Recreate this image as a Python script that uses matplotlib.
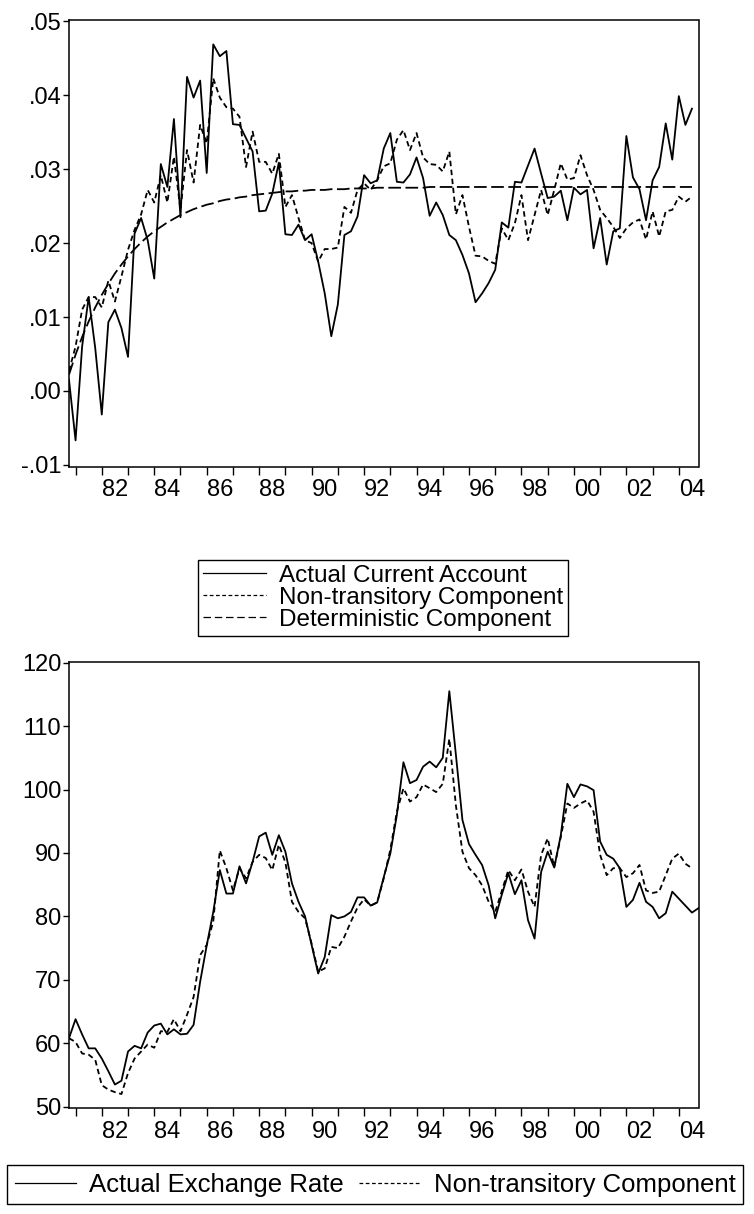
import numpy as np
import matplotlib
matplotlib.use("Agg")
import matplotlib.pyplot as plt
from matplotlib.lines import Line2D

plt.rcParams["font.family"] = ["Liberation Sans", "DejaVu Sans"]

# ================= DATA (quarterly, 1980Q4 onwards) =================
actual_ca = [
    0.0015, -0.0067, 0.0060, 0.0127, 0.0058, -0.0032, 0.0093, 0.0110, 0.0085, 0.0046,
    0.0213, 0.0234, 0.0204, 0.0152, 0.0307, 0.0276, 0.0368, 0.0235, 0.0425, 0.0397,
    0.0420, 0.0295, 0.0469, 0.0453, 0.0460, 0.0361, 0.0360, 0.0342, 0.0324, 0.0243,
    0.0244, 0.0267, 0.0309, 0.0212, 0.0211, 0.0225, 0.0204, 0.0212, 0.0175, 0.0132,
    0.0074, 0.0117, 0.0211, 0.0216, 0.0236, 0.0292, 0.0281, 0.0285, 0.0328, 0.0349,
    0.0283, 0.0282, 0.0293, 0.0316, 0.0288, 0.0237, 0.0255, 0.0238, 0.0211, 0.0204,
    0.0184, 0.0159, 0.0120, 0.0132, 0.0146, 0.0164, 0.0228, 0.0221, 0.0283, 0.0282,
    0.0305, 0.0328, 0.0294, 0.0261, 0.0263, 0.0271, 0.0231, 0.0275, 0.0266, 0.0272,
    0.0193, 0.0234, 0.0171, 0.0216, 0.0220, 0.0345, 0.0289, 0.0273, 0.0231, 0.0285,
    0.0303, 0.0362, 0.0313, 0.0399, 0.0360, 0.0382,
]
nontrans_ca = [
    0.0027, 0.0060, 0.0110, 0.0127, 0.0127, 0.0113, 0.0149, 0.0121, 0.0155, 0.0191,
    0.0218, 0.0239, 0.0272, 0.0255, 0.0292, 0.0255, 0.0317, 0.0245, 0.0326, 0.0282,
    0.0360, 0.0335, 0.0423, 0.0397, 0.0384, 0.0382, 0.0371, 0.0303, 0.0351, 0.0310,
    0.0310, 0.0294, 0.0321, 0.0249, 0.0265, 0.0234, 0.0204, 0.0200, 0.0175, 0.0192,
    0.0192, 0.0194, 0.0249, 0.0241, 0.0272, 0.0281, 0.0272, 0.0285, 0.0304, 0.0308,
    0.0340, 0.0353, 0.0326, 0.0349, 0.0316, 0.0307, 0.0306, 0.0297, 0.0324, 0.0239,
    0.0265, 0.0222, 0.0183, 0.0182, 0.0176, 0.0172, 0.0220, 0.0204, 0.0227, 0.0265,
    0.0204, 0.0238, 0.0272, 0.0238, 0.0272, 0.0308, 0.0286, 0.0288, 0.0319, 0.0292,
    0.0272, 0.0245, 0.0234, 0.0222, 0.0207, 0.0220, 0.0228, 0.0232, 0.0205, 0.0243,
    0.0209, 0.0243, 0.0245, 0.0263, 0.0256, 0.0263,
]
determ_ca = [
    0.0022, 0.0049, 0.0073, 0.0094, 0.0113, 0.0130, 0.0145, 0.0159, 0.0171, 0.0182,
    0.0192, 0.0201, 0.0209, 0.0216, 0.0222, 0.0228, 0.0233, 0.0238, 0.0242, 0.0246,
    0.0249, 0.0252, 0.0254, 0.0257, 0.0259, 0.0260, 0.0262, 0.0263, 0.0265, 0.0266,
    0.0267, 0.0268, 0.0269, 0.0270, 0.0270, 0.0271, 0.0271, 0.0272, 0.0272, 0.0272,
    0.0273, 0.0273, 0.0273, 0.0274, 0.0274, 0.0274, 0.0274, 0.0275, 0.0275, 0.0275,
    0.0275, 0.0275, 0.0275, 0.0275, 0.0275, 0.0276, 0.0276, 0.0276, 0.0276, 0.0276,
    0.0276, 0.0276, 0.0276, 0.0276, 0.0276, 0.0276, 0.0276, 0.0276, 0.0276, 0.0276,
    0.0276, 0.0276, 0.0276, 0.0276, 0.0276, 0.0276, 0.0276, 0.0276, 0.0276, 0.0276,
    0.0276, 0.0276, 0.0276, 0.0276, 0.0276, 0.0276, 0.0276, 0.0276, 0.0276, 0.0276,
    0.0276, 0.0276, 0.0276, 0.0276, 0.0276, 0.0276,
]

actual_er = [
    60.8, 63.8, 61.4, 59.2, 59.2, 57.6, 55.6, 53.5, 54.1, 58.7,
    59.6, 59.2, 61.7, 62.8, 63.1, 61.4, 62.2, 61.4, 61.5, 62.9,
    69.7, 75.4, 80.7, 87.3, 83.6, 83.6, 87.9, 85.2, 88.6, 92.6,
    93.2, 89.7, 92.8, 90.2, 85.2, 82.3, 80.0, 75.5, 71.0, 73.6,
    80.2, 79.7, 80.0, 80.7, 83.0, 83.0, 81.7, 82.2, 86.2, 89.9,
    96.0, 104.3, 101.0, 101.5, 103.6, 104.4, 103.5, 105.0, 115.5, 105.5,
    95.2, 91.4, 89.7, 88.1, 84.9, 79.7, 83.4, 86.8, 83.5, 85.7,
    79.4, 76.5, 87.0, 90.2, 87.7, 92.8, 100.9, 98.8, 100.8, 100.5,
    99.9, 91.8, 89.7, 89.1, 87.6, 81.5, 82.6, 85.3, 82.3, 81.5,
    79.7, 80.5, 83.9, 82.8, 81.7, 80.6, 81.3,
]
nontrans_er = [
    60.8, 60.2, 58.4, 58.2, 57.4, 53.4, 52.7, 52.3, 52.0, 55.3,
    57.6, 58.7, 59.8, 59.3, 61.9, 61.8, 63.8, 61.9, 64.5, 67.3,
    73.9, 75.5, 79.2, 90.4, 87.6, 84.1, 87.6, 86.0, 88.6, 89.7,
    89.2, 87.3, 91.3, 88.5, 82.3, 80.7, 79.7, 75.7, 71.3, 71.8,
    75.2, 75.0, 76.8, 79.2, 81.4, 82.7, 81.7, 82.2, 86.0, 90.5,
    96.5, 100.2, 98.1, 98.8, 100.8, 100.2, 99.6, 100.9, 108.0, 97.5,
    90.2, 87.6, 86.5, 84.9, 82.3, 80.7, 84.0, 87.3, 85.7, 87.4,
    83.9, 81.5, 89.7, 92.3, 87.8, 92.5, 97.8, 97.1, 97.8, 98.3,
    96.5, 89.7, 86.5, 87.6, 87.6, 86.2, 86.8, 88.1, 84.1, 83.7,
    83.9, 86.5, 89.1, 89.9, 88.3, 87.6,
]

START = 1980.75          # first observation (1980Q4)
year_ticks = list(range(1981, 2005))
year_labels = ["82", "84", "86", "88", "90", "92", "94", "96", "98", "00", "02", "04"]
label_pos = [1982.5 + 2 * k for k in range(len(year_labels))]

ca_ticks = [-0.01, 0.00, 0.01, 0.02, 0.03, 0.04, 0.05]
ca_ticklabels = ["-.01", ".00", ".01", ".02", ".03", ".04", ".05"]
er_ticks = [50, 60, 70, 80, 90, 100, 110, 120]


def qx(series):
    return START + 0.25 * np.arange(len(series))


def style_axis(ax):
    ax.set_xlim(START, START + 24)
    ax.set_xticks(year_ticks)
    ax.set_xticklabels([])
    ax.set_xticks(label_pos, minor=True)
    ax.set_xticklabels(year_labels, minor=True)
    ax.tick_params(axis="x", which="major", direction="out", length=6, width=1)
    ax.tick_params(axis="x", which="minor", length=0, pad=9, labelsize=17)
    ax.tick_params(axis="y", direction="out", length=4.5, width=1, pad=1, labelsize=17)
    for s in ax.spines.values():
        s.set_linewidth(1.1)


LW = 1.3
SHORT = (0, (3, 2))
LONG = (0, (7, 2.5))

fig = plt.figure(figsize=(7.54, 12.14), dpi=100)

# ================= CURRENT ACCOUNT =================
ax1 = fig.add_axes([69 / 754, 1 - 467 / 1214, 629.5 / 754, 447 / 1214])
ax1.plot(qx(actual_ca), actual_ca, color="black", lw=LW)
ax1.plot(qx(nontrans_ca), nontrans_ca, color="black", lw=LW, linestyle=SHORT)
ax1.plot(qx(determ_ca), determ_ca, color="black", lw=LW, linestyle=LONG)
ax1.set_ylim(-0.0103, 0.0502)
ax1.set_yticks(ca_ticks)
ax1.set_yticklabels(ca_ticklabels)
style_axis(ax1)

h1 = [Line2D([], [], color="black", lw=0.9),
      Line2D([], [], color="black", lw=0.9, linestyle=(0, (3, 2))),
      Line2D([], [], color="black", lw=0.9, linestyle=(0, (6, 3)))]
fig.legend(h1, ["Actual Current Account", "Non-transitory Component", "Deterministic Component"],
           loc="upper center", bbox_to_anchor=(383 / 754, 1 - 560 / 1214),
           fontsize=17.5, frameon=True, fancybox=False, edgecolor="black", framealpha=1,
           handlelength=2.6, handletextpad=0.5, labelspacing=0.0, borderpad=0.2,
           borderaxespad=0)

# ================= EXCHANGE RATE =================
ax2 = fig.add_axes([69 / 754, 1 - 1108 / 1214, 629.5 / 754, 446 / 1214])
ax2.plot(qx(actual_er), actual_er, color="black", lw=LW)
ax2.plot(qx(nontrans_er), nontrans_er, color="black", lw=LW, linestyle=SHORT)
ax2.set_ylim(49.8, 120.1)
ax2.set_yticks(er_ticks)
style_axis(ax2)

h2 = [Line2D([], [], color="black", lw=0.9),
      Line2D([], [], color="black", lw=0.9, linestyle=(0, (3, 2)))]
fig.legend(h2, ["Actual Exchange Rate", "Non-transitory Component"],
           loc="upper center", bbox_to_anchor=(375 / 754, 1 - 1165 / 1214), ncol=2,
           fontsize=18.5, frameon=True, fancybox=False, edgecolor="black", framealpha=1,
           handlelength=2.4, handletextpad=0.5, columnspacing=0.6, borderpad=0.3,
           borderaxespad=0)

fig.savefig("out.png", dpi=100)
